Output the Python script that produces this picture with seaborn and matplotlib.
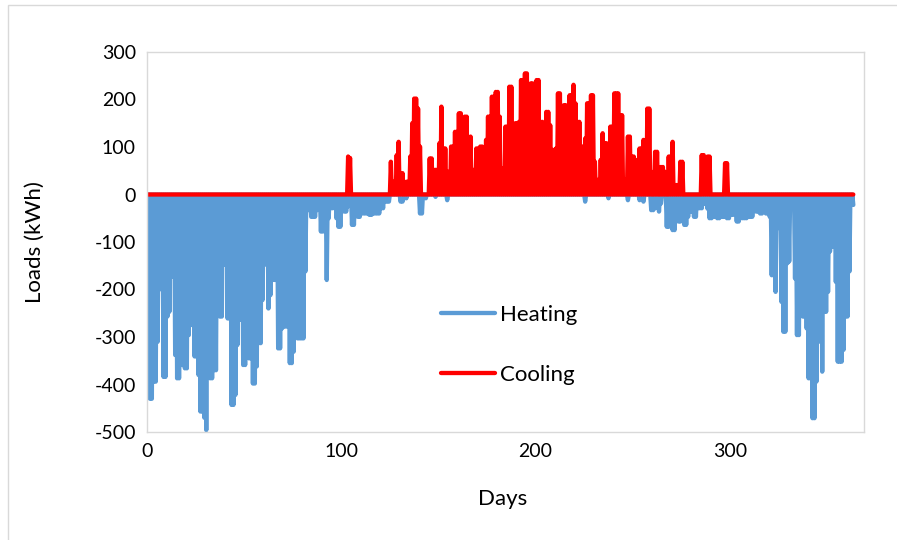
import matplotlib
matplotlib.use("Agg")
import matplotlib.pyplot as plt
from matplotlib.patches import Rectangle
import seaborn as sns
import pandas as pd

# Daily peak heating load (kWh, negative), days 0..363
heating = [
    -30, -430, -430, -394, -394, -310, -166, -200, -384, -384,
    -257, -247, -173, -173, -338, -387, -387, -359, -359, -366,
    -366, -296, -275, -275, -341, -341, -380, -457, -457, -470,
    -496, -113, -387, -387, -370, -370, -254, -257, -257, -148,
    -148, -261, -261, -443, -443, -422, -317, -261, -264, -359,
    -359, -331, -345, -345, -398, -398, -362, -313, -313, -222,
    -148, -110, -240, -212, -180, -180, -180, -324, -324, -282,
    -278, -278, -278, -355, -355, -331, -282, -303, -303, -303,
    -303, -162, -33, -33, -47, -47, -47, -33, -20, -78,
    -78, -57, -180, -50, -29, -29, 0, -50, -68, -68,
    -29, -36, -36, -25, -20, -64, -64, -40, -47, -47,
    -40, -40, -40, -40, -43, -43, -40, -40, -40, -40,
    -29, -29, -15, -15, -15, 0, 0, 0, 0, 0,
    -15, -15, -8, -8, 0, 0, 0, 0, 0, 0,
    -40, -40, 0, -8, 0, 0, 0, 0, -5, 0,
    0, 0, 0, 0, -12, 0, 0, 0, 0, 0,
    0, 0, 0, 0, 0, 0, 0, 0, 0, 0,
    0, 0, 0, 0, 0, 0, 0, 0, 0, 0,
    0, 0, 0, 0, 0, 0, 0, 0, 0, 0,
    0, 0, 0, 0, 0, 0, 0, 0, 0, 0,
    0, 0, 0, 0, 0, 0, 0, 0, 0, 0,
    0, 0, 0, 0, 0, 0, 0, 0, 0, 0,
    0, 0, 0, 0, 0, -15, 0, 0, 0, 0,
    0, 0, 0, 0, 0, 0, 0, -8, 0, 0,
    0, 0, 0, 0, 0, 0, 0, -12, 0, 0,
    0, 0, 0, -12, 0, -15, 0, 0, 0, -33,
    -33, -29, 0, -36, -19, 0, 0, -68, -68, -15,
    -75, -75, -15, -57, -57, -20, -64, -64, -47, -36,
    -36, -47, -47, -29, -29, -29, -20, -20, -30, -50,
    -50, -47, -47, -50, -50, -47, -47, -47, -50, -50,
    -43, -43, -22, -57, -57, -50, -50, -50, -50, -47,
    -47, -47, -33, -36, -36, -40, -40, -29, -40, -40,
    -47, -170, -170, -205, -8, -71, -226, -289, -289, -145,
    -141, -8, -30, -177, -296, -296, -177, -257, -257, -282,
    -387, -387, -471, -471, -394, -275, -310, -373, -247, -247,
    -205, -120, -110, -110, -184, -352, -352, -352, -327, -257,
    -257, -162, -22, -22,
]

# Daily peak cooling load (kWh, positive), days 0..363
cooling = [
    0, 0, 0, 0, 0, 0, 0, 0, 0, 0,
    0, 0, 0, 0, 0, 0, 0, 0, 0, 0,
    0, 0, 0, 0, 0, 0, 0, 0, 0, 0,
    0, 0, 0, 0, 0, 0, 0, 0, 0, 0,
    0, 0, 0, 0, 0, 0, 0, 0, 0, 0,
    0, 0, 0, 0, 0, 0, 0, 0, 0, 0,
    0, 0, 0, 0, 0, 0, 0, 0, 0, 0,
    0, 0, 0, 0, 0, 0, 0, 0, 0, 0,
    0, 0, 0, 0, 0, 0, 0, 0, 0, 0,
    0, 0, 0, 0, 0, 0, 0, 0, 0, 0,
    0, 0, 0, 80, 77, 0, 0, 0, 0, 0,
    0, 0, 0, 0, 0, 0, 0, 0, 0, 0,
    0, 0, 0, 0, 0, 69, 27, 27, 83, 111,
    20, 45, 0, 27, 27, 80, 150, 202, 202, 181,
    101, 0, 0, 0, 0, 76, 76, 52, 52, 52,
    108, 185, 97, 97, 48, 48, 101, 101, 132, 132,
    171, 171, 132, 164, 164, 104, 122, 52, 52, 97,
    97, 101, 101, 58, 115, 164, 164, 206, 206, 216,
    216, 164, 55, 55, 143, 143, 227, 227, 52, 150,
    150, 153, 241, 241, 255, 255, 178, 234, 234, 150,
    241, 241, 153, 153, 73, 174, 174, 146, 94, 94,
    97, 213, 213, 129, 188, 188, 104, 209, 209, 231,
    192, 153, 153, 101, 101, 118, 192, 192, 209, 209,
    69, 31, 31, 73, 129, 108, 108, 73, 143, 143,
    213, 213, 213, 167, 167, 31, 31, 122, 122, 80,
    80, 73, 52, 97, 97, 115, 101, 181, 181, 48,
    0, 90, 90, 0, 58, 58, 48, 0, 80, 80,
    111, 20, 20, 20, 69, 69, 0, 0, 0, 0,
    0, 0, 0, 0, 0, 83, 83, 31, 80, 80,
    0, 0, 0, 0, 0, 0, 0, 66, 66, 0,
    0, 0, 0, 0, 0, 0, 0, 0, 0, 0,
    0, 0, 0, 0, 0, 0, 0, 0, 0, 0,
    0, 0, 0, 0, 0, 0, 0, 0, 0, 0,
    0, 0, 0, 0, 0, 0, 0, 0, 0, 0,
    0, 0, 0, 0, 0, 0, 0, 0, 0, 0,
    0, 0, 0, 0, 0, 0, 0, 0, 0, 0,
    0, 0, 0, 0,
]

series_names = ["Heating", "Cooling"]
series_colors = ["#5B9BD5", "#FF0000"]
x_ticks = [0, 100, 200, 300]
y_ticks = [-500, -400, -300, -200, -100, 0, 100, 200, 300]


def daily_profile(values):
    # each day: load rises from zero to the day's peak (hourly-like profile)
    xs, ys = [], []
    for d, v in enumerate(values):
        xs += [d, d + 0.5]
        ys += [0, v]
    return pd.DataFrame({"Days": xs, "Loads": ys})


sns.set_theme(style="white")
plt.rcParams["font.family"] = ["Lato", "DejaVu Sans"]
plt.rcParams["axes.unicode_minus"] = False

fig = plt.figure(figsize=(8.97, 5.40), dpi=100)
ax = fig.add_axes([147 / 897, 1 - 432 / 540, 717 / 897, 380 / 540])

for name, vals, col in zip(series_names, [heating, cooling], series_colors):
    df = daily_profile(vals)
    sns.lineplot(data=df, x="Days", y="Loads", color=col, linewidth=3.1,
                 sort=False, estimator=None, ax=ax, label=name,
                 solid_joinstyle="round", solid_capstyle="round")

ax.set_xlim(0, 369)
ax.set_ylim(-500, 300)
ax.set_xticks(x_ticks)
ax.set_yticks(y_ticks)
ax.tick_params(axis="both", length=0, labelsize=14, colors="black", pad=8)
for s in ax.spines.values():
    s.set_color("#D9D9D9")
    s.set_linewidth(1.0)
ax.grid(False)

ax.set_xlabel("Days", fontsize=16, color="black")
ax.set_ylabel("Loads (kWh)", fontsize=16, color="black")
ax.xaxis.set_label_coords(0.4965, -0.15)
ax.yaxis.set_label_coords(-0.143, 0.5)

leg = ax.legend(loc="upper left", bbox_to_anchor=(0.41, 0.335), frameon=False,
                fontsize=16, handlelength=2.45, handletextpad=0.2,
                labelspacing=1.8, borderaxespad=0, borderpad=0)
for t in leg.get_texts():
    t.set_color("black")

fig.patches.append(Rectangle((8 / 897, -0.05), 1.1, 0.05 + 1 - 5 / 540,
                             transform=fig.transFigure, fill=False,
                             edgecolor="#D9D9D9", linewidth=1.0))

fig.savefig("out.png", dpi=100)
